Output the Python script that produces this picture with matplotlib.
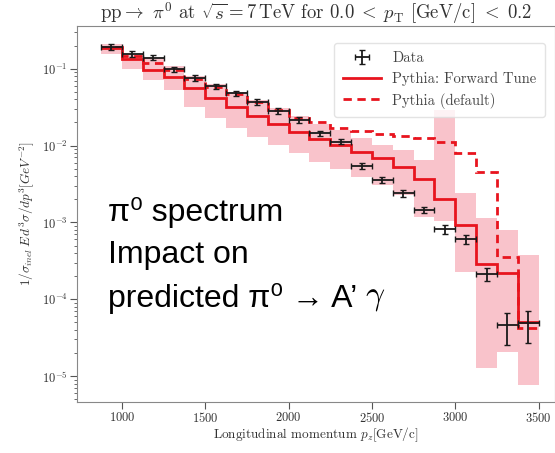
import numpy as np
import matplotlib
matplotlib.use("Agg")
import matplotlib.pyplot as plt

# bin edges of the p_z histogram [GeV/c]
bin_edges = [875, 1000, 1125, 1250, 1375, 1500, 1625, 1750, 1875, 2000, 2125,
             2250, 2375, 2500, 2625, 2750, 2875, 3000, 3125, 3250, 3375, 3500]

data_vals = [0.192, 0.156, 0.140, 0.099, 0.0757, 0.0588, 0.0482, 0.0371, 0.0284,
             0.0215, 0.0144, 0.0113, 0.00545, 0.00358, 0.0024, 0.00146, 0.000815,
             0.000604, 0.000213, 4.6e-5, 4.9e-5]
data_rel_err = [0.08, 0.08, 0.08, 0.08, 0.08, 0.08, 0.08, 0.08, 0.08, 0.08, 0.08,
                0.08, 0.1, 0.1, 0.1, 0.1, 0.12, 0.12, 0.2, 0.45, 0.45]

tune_vals = [0.186, 0.134, 0.097, 0.077, 0.0561, 0.0413, 0.0315, 0.0244, 0.0192,
             0.0150, 0.0121, 0.0102, 0.0083, 0.0069, 0.00528, 0.00369, 0.00202,
             0.000927, 0.00029, 0.00022, 5.06e-5]
band_hi = [0.212, 0.157, 0.139, 0.109, 0.081, 0.0638, 0.0501, 0.0394, 0.0310,
           0.0244, 0.0192, 0.0160, 0.0126, 0.0102, 0.00881, 0.0065, 0.0292,
           0.00242, 0.00115, 0.000798, 0.000378]
band_lo = [0.157, 0.100, 0.072, 0.0532, 0.032, 0.0230, 0.0170, 0.0130, 0.0102,
           0.00805, 0.00614, 0.00498, 0.00392, 0.00308, 0.00228, 0.00119, 0.00105,
           0.000226, 1.27e-5, 2.06e-5, 7.6e-6]

default_vals = [0.194, 0.148, 0.120, 0.097, 0.0741, 0.0582, 0.0472, 0.0371, 0.0292,
                0.0230, 0.0204, 0.0170, 0.0156, 0.0142, 0.0134, 0.0126, 0.0112,
                0.00805, 0.00455, 0.000355, 4.2e-5]

x_ticks = [1000, 1500, 2000, 2500, 3000, 3500]
note_lines = ["π⁰ spectrum", "Impact on", "predicted π⁰ → A’ "]

plt.rcParams["font.family"] = "serif"
plt.rcParams["font.serif"] = ["cmr10"]
plt.rcParams["mathtext.fontset"] = "cm"
plt.rcParams["axes.formatter.use_mathtext"] = True

RED = "#e8141e"
PINK = "#f9c3cb"

edges = np.array(bin_edges, dtype=float)
centers = 0.5 * (edges[:-1] + edges[1:])
half_w = 0.5 * np.diff(edges)
data = np.array(data_vals)
derr = data * np.array(data_rel_err)

fig = plt.figure(figsize=(5.55, 4.53), dpi=100)
ax = fig.add_axes([0.1387, 0.1126, 0.8613, 0.83])

ax.stairs(band_hi, edges, baseline=band_lo, fill=True, color=PINK, lw=0)
ax.stairs(tune_vals, edges, baseline=None, color=RED, lw=2.0,
          label="Pythia: Forward Tune")
ax.stairs(default_vals, edges, baseline=None, color=RED, lw=2.0, ls=(0, (3, 2)),
          label="Pythia (default)")
ax.errorbar(centers, data, xerr=half_w, yerr=derr, fmt="none", ecolor="#1a1a1a",
            elinewidth=1.3, capsize=2.5, capthick=1.0, label="Data", zorder=5)

ax.set_yscale("log")
ax.set_xlim(731, 3598)
ax.set_ylim(4.6e-6, 0.36)
ax.set_xticks(x_ticks)
ax.tick_params(which="both", direction="out", colors="#555555", labelcolor="#333333",
               labelsize=9, pad=1.5)
ax.tick_params(which="major", length=5)
ax.tick_params(which="minor", length=2.5)
for sp in ax.spines.values():
    sp.set_color("#888888")

ax.set_xlabel(r"Longitudinal momentum $p_z$[GeV/c]", fontsize=9.5, color="#333333",
              labelpad=0)
ax.set_ylabel(r"$1/\sigma_{inel}\,E\,d^3\sigma/dp^3[GeV^{-2}]$", fontsize=9.5,
              color="#333333")
ax.set_title(r"pp$\rightarrow$ $\pi^0$ at $\sqrt{s} = 7\,$TeV for $0.0\;<\;p_{\rm T}$ [GeV/c] $<\;0.2$",
             fontsize=13.5, color="#333333", pad=3)

handles, labels = ax.get_legend_handles_labels()
order = [labels.index("Data"), labels.index("Pythia: Forward Tune"),
         labels.index("Pythia (default)")]
leg = ax.legend([handles[i] for i in order], [labels[i] for i in order],
                loc="upper right", fontsize=10.5, frameon=True, borderpad=0.6,
                labelspacing=0.45, handlelength=2.6, labelcolor="#444444",
                bbox_to_anchor=(0.995, 0.975))
leg.get_frame().set_edgecolor("#dddddd")

# annotation block, one line per text so the spacing can follow the picture
note_font = ["Liberation Sans", "DejaVu Sans"]
line_y = [0.503, 0.39, 0.276]
last = None
for txt, yy in zip(note_lines, line_y):
    last = ax.text(0.065, yy, txt, transform=ax.transAxes, fontsize=23,
                   family=note_font, color="black", va="center", ha="left")
ax.annotate(r"$\gamma$", xy=(1, 0.5), xycoords=last, xytext=(0, 0),
            textcoords="offset points", fontsize=24, va="center", ha="left")

fig.savefig("out.png", dpi=100)
